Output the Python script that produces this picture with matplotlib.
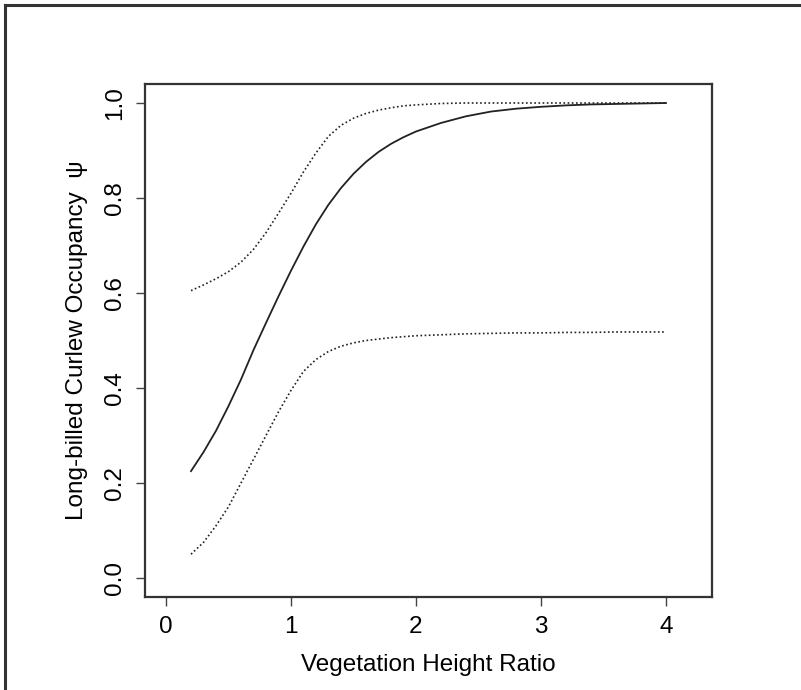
import matplotlib
matplotlib.use("Agg")
import matplotlib.pyplot as plt
from matplotlib.lines import Line2D

plt.rcParams["font.family"] = ["Liberation Sans", "DejaVu Sans"]

# values (occupancy estimate and its bounds)
x_vals = [0.2, 0.3, 0.4, 0.5, 0.6, 0.7, 0.8, 0.9, 1.0, 1.1, 1.2, 1.3, 1.4,
          1.5, 1.6, 1.7, 1.8, 1.9, 2.0, 2.2, 2.4, 2.6, 2.8, 3.0, 3.2, 3.4,
          3.6, 3.8, 4.0]
psi_mean = [0.225, 0.265, 0.31, 0.362, 0.418, 0.48, 0.537, 0.593, 0.647,
            0.698, 0.745, 0.786, 0.821, 0.851, 0.876, 0.897, 0.914, 0.928,
            0.94, 0.958, 0.972, 0.982, 0.988, 0.992, 0.995, 0.997, 0.998,
            0.999, 1.0]
psi_upper = [0.605, 0.617, 0.63, 0.645, 0.665, 0.692, 0.727, 0.768, 0.81,
             0.855, 0.895, 0.93, 0.953, 0.968, 0.978, 0.985, 0.99, 0.994,
             0.996, 0.999, 1.0, 1.0, 1.0, 1.0, 1.0, 1.0, 1.0, 1.0, 1.0]
psi_lower = [0.05, 0.075, 0.11, 0.15, 0.20, 0.25, 0.30, 0.35, 0.395, 0.435,
             0.46, 0.477, 0.488, 0.495, 0.50, 0.503, 0.506, 0.508, 0.51,
             0.512, 0.514, 0.515, 0.516, 0.516, 0.517, 0.517, 0.518, 0.518,
             0.518]

x_ticks = [0, 1, 2, 3, 4]
y_ticks = [0.0, 0.2, 0.4, 0.6, 0.8, 1.0]

fig = plt.figure(figsize=(8.01, 6.9), dpi=100)
ax = fig.add_axes([145 / 801, 1 - 597 / 690, (712 - 145) / 801, (597 - 84) / 690])

line_col = "#222222"
ax.plot(x_vals, psi_mean, color=line_col, lw=1.3)
ax.plot(x_vals, psi_upper, color=line_col, lw=1.2, linestyle=(0, (1, 1.5)))
ax.plot(x_vals, psi_lower, color=line_col, lw=1.2, linestyle=(0, (1, 1.5)))

ax.set_xlim(-0.168, 4.368)
ax.set_ylim(-0.04, 1.04)
ax.set_xticks(x_ticks)
ax.set_xticklabels([str(t) for t in x_ticks])
ax.set_yticks(y_ticks)
ax.set_yticklabels([f"{t:.1f}" for t in y_ticks], rotation=90, va="center")
ax.tick_params(direction="out", length=6.5, width=1.0, labelsize=17.5,
               color="#444444", pad=7)

for s in ax.spines.values():
    s.set_linewidth(1.6)
    s.set_color("#333333")

ax.set_xlabel("Vegetation Height Ratio", fontsize=17.5, labelpad=12)
ax.set_ylabel("Long-billed Curlew Occupancy  \u03c8", fontsize=17.5, labelpad=12)

# outer frame (cropped on the right and bottom)
fig.add_artist(Line2D([4.5 / 801, 4.5 / 801], [0, 1 - 4.5 / 690],
                      transform=fig.transFigure, color="#333333", lw=2.2))
fig.add_artist(Line2D([4.5 / 801, 1], [1 - 4.5 / 690, 1 - 4.5 / 690],
                      transform=fig.transFigure, color="#333333", lw=2.2))

fig.savefig("out.png", dpi=100)
